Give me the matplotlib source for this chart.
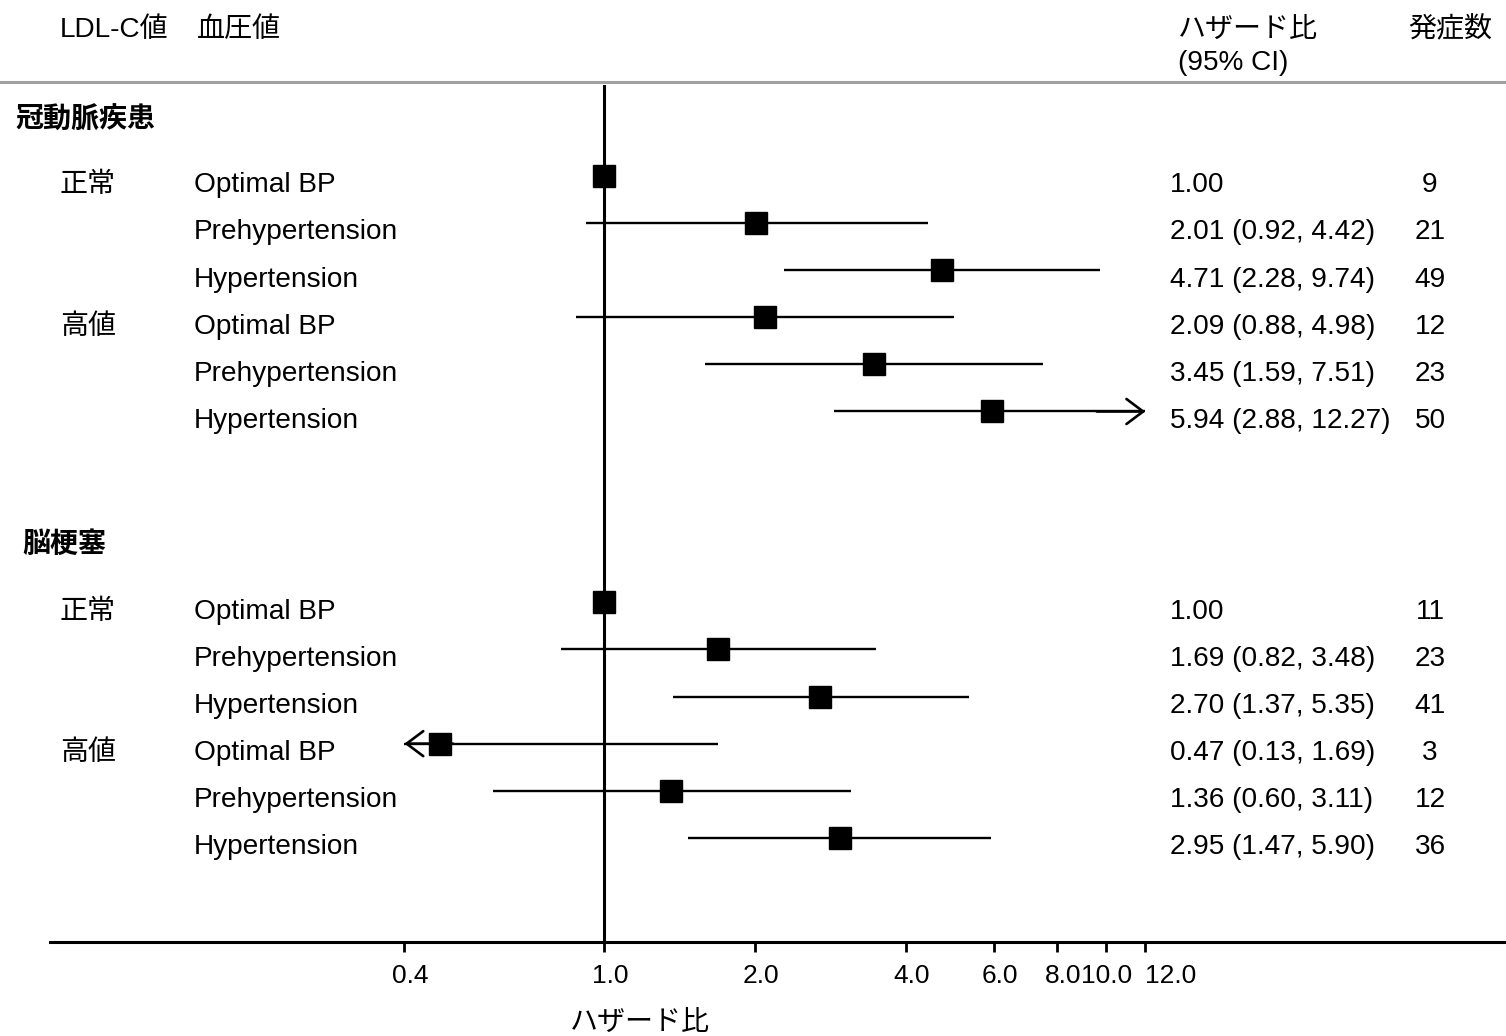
import matplotlib
matplotlib.use("Agg")
import matplotlib.pyplot as plt
from matplotlib.transforms import blended_transform_factory, ScaledTranslation

plt.rcParams['font.family'] = ['Liberation Sans', 'Noto Sans CJK JP']

groups = ['冠動脈疾患', '脳梗塞']
ldl = ['正常', '', '', '高値', '', '']
bp = ['Optimal BP', 'Prehypertension', 'Hypertension'] * 2

chd_hr = [1.00, 2.01, 4.71, 2.09, 3.45, 5.94]
chd_lo = [None, 0.92, 2.28, 0.88, 1.59, 2.88]
chd_hi = [None, 4.42, 9.74, 4.98, 7.51, 12.27]
chd_n = [9, 21, 49, 12, 23, 50]

st_hr = [1.00, 1.69, 2.70, 0.47, 1.36, 2.95]
st_lo = [None, 0.82, 1.37, 0.13, 0.60, 1.47]
st_hi = [None, 3.48, 5.35, 1.69, 3.11, 5.90]
st_n = [11, 23, 41, 3, 12, 36]

ticks = [0.4, 1.0, 2.0, 4.0, 6.0, 8.0, 10.0, 12.0]
tick_labels = ['0.4', '1.0', '2.0', '4.0', '6.0', '8.0', '10.0', '12.0']
x_min, x_max = 0.4, 12.0  # display range of CI lines

fig = plt.figure(figsize=(15.06, 10.36), dpi=100)
W, H = 1506, 1036
ax = fig.add_axes([50 / W, 1 - 942 / H, 1456 / W, (942 - 85) / H])
ax.set_xscale('log', base=2)
ax.set_xlim(2 ** ((50 - 604) / 151), 2 ** ((1506 - 604) / 151))
ax.set_ylim(16.26, -1.93)

tr = blended_transform_factory(fig.transFigure, ax.transData)
fs = 20.2

def fx(px):
    return px / W

def fy(py):
    return 1 - py / H

# header
fig.text(fx(60), fy(30), 'LDL-C値', fontsize=fs, va='center')
fig.text(fx(197), fy(30), '血圧値', fontsize=fs, va='center')
fig.text(fx(1178), fy(30), 'ハザード比', fontsize=fs, va='center')
fig.text(fx(1178), fy(63), '(95% CI)', fontsize=fs, va='center')
fig.text(fx(1408), fy(30), '発症数', fontsize=fs, va='center')
fig.add_artist(plt.Line2D([0, 1], [fy(82), fy(82)], color='#a0a0a0', lw=2.2,
                          transform=fig.transFigure))

data = [(chd_hr, chd_lo, chd_hi, chd_n), (st_hr, st_lo, st_hi, st_n)]
starts = [0, 9.05]
head_y = [-1.18, 7.82]
head_x = [15, 22]
off = 0.2
arrow = dict(arrowstyle='->,head_length=0.6,head_width=0.45', lw=1.9,
             color='black', mutation_scale=20, shrinkA=0, shrinkB=0)

for g, (hr, lo, hi, n) in enumerate(data):
    y0 = starts[g]
    ax.text(fx(head_x[g]), head_y[g], groups[g], transform=tr, fontsize=fs,
            fontweight='bold', va='center')
    for i in range(len(hr)):
        y = y0 + i
        if lo[i] is not None:
            a = max(lo[i], x_min)
            b = min(hi[i], x_max)
            ax.plot([a, b], [y, y], color='black', lw=1.7, solid_capstyle='butt')
            if hi[i] > x_max:
                ax.annotate('', xy=(x_max, y), xytext=(x_max * 0.8, y), arrowprops=arrow)
            if lo[i] < x_min:
                ax.annotate('', xy=(x_min, y), xytext=(x_min * 1.25, y), arrowprops=arrow)
            txt = f'{hr[i]:.2f} ({lo[i]:.2f}, {hi[i]:.2f})'
        else:
            txt = f'{hr[i]:.2f}'
        ax.plot([hr[i]], [y], marker='s', color='black', ms=15.5, zorder=5)
        ax.text(fx(60), y + off, ldl[i], transform=tr, fontsize=fs, va='center')
        ax.text(fx(194), y + off, bp[i], transform=tr, fontsize=fs, va='center')
        ax.text(fx(1170), y + off, txt, transform=tr, fontsize=fs, va='center')
        ax.text(fx(1430), y + off, str(n[i]), transform=tr, fontsize=fs,
                va='center', ha='center')

ax.axvline(1.0, color='black', lw=2.2, zorder=4)

for s in ['top', 'left', 'right']:
    ax.spines[s].set_visible(False)
ax.spines['bottom'].set_linewidth(2.2)
ax.set_yticks([])
ax.set_xticks(ticks)
ax.set_xticklabels([])
ax.minorticks_off()
ax.tick_params(axis='x', direction='out', length=7, width=2)

# tick labels, nudged like the original
xt = ax.get_xaxis_transform()
for v, lab in zip(ticks, tick_labels):
    if lab == '12.0':
        t = xt + ScaledTranslation(0, 0, fig.dpi_scale_trans)
        ax.text(v, -0.04, lab, transform=t, fontsize=19, ha='left', va='center')
    elif lab == '10.0':
        t = xt + ScaledTranslation(1 / 100, 0, fig.dpi_scale_trans)
        ax.text(v, -0.04, lab, transform=t, fontsize=19, ha='center', va='center')
    else:
        t = xt + ScaledTranslation(6 / 100, 0, fig.dpi_scale_trans)
        ax.text(v, -0.04, lab, transform=t, fontsize=19, ha='center', va='center')

fig.text(fx(640), fy(1023), 'ハザード比', fontsize=fs, ha='center', va='center')

fig.savefig('out.png', dpi=100)
